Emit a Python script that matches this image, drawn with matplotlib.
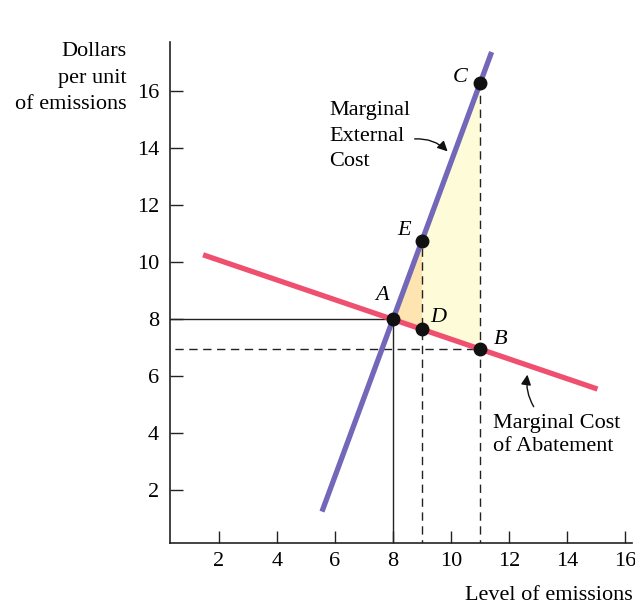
import matplotlib.pyplot as plt
from matplotlib.patches import Polygon

# curves (end points)
mec_x = [5.55, 11.4]
mec_y = [1.26, 17.35]
mca_x = [1.45, 15.05]
mca_y = [10.25, 5.55]

# labelled points
pt_names = ['A', 'D', 'B', 'E', 'C']
pt_x = [8, 9, 11, 9, 11]
pt_y = [8, 7.65, 6.96, 10.75, 16.25]

x_ticks = [2, 4, 6, 8, 10, 12, 14, 16]
y_ticks = [2, 4, 6, 8, 10, 12, 14, 16]

purple = '#7367b9'
red = '#ef5070'
serif = ['Liberation Serif', 'DejaVu Serif']
plt.rcParams['font.family'] = serif
fs = 16

fig = plt.figure(figsize=(6.35, 6.09), dpi=100)
ax = fig.add_axes([170 / 635, 1 - 543.3 / 609, 462 / 635, 501.3 / 609])
ax.set_xlim(0.31, 16.24)
ax.set_ylim(0.15, 17.7)

P = dict(zip(pt_names, zip(pt_x, pt_y)))

# shaded areas
ax.add_patch(Polygon([P['A'], P['E'], P['D']], closed=True,
                     facecolor='#fde4b0', edgecolor='none', zorder=1))
ax.add_patch(Polygon([P['E'], P['C'], P['B'], P['D']], closed=True,
                     facecolor='#fefbd8', edgecolor='none', zorder=1))

# guide lines
ax.plot([0, P['A'][0]], [P['A'][1]] * 2, color='#222222', lw=1, zorder=2)
ax.plot([P['A'][0]] * 2, [0, P['A'][1]], color='#222222', lw=1, zorder=2)
ax.plot([0, P['B'][0]], [P['B'][1]] * 2, color='#222222', lw=1,
        ls=(0, (6, 4)), zorder=2)
ax.plot([P['E'][0]] * 2, [0, P['E'][1]], color='#222222', lw=1,
        ls=(0, (6, 4)), zorder=2)
ax.plot([P['C'][0]] * 2, [0, P['C'][1]], color='#222222', lw=1,
        ls=(0, (6, 4)), zorder=2)

# curves
ax.plot(mca_x, mca_y, color=red, lw=3.8, solid_capstyle='butt', zorder=3)
ax.plot(mec_x, mec_y, color=purple, lw=3.8, solid_capstyle='butt', zorder=4)

ax.plot(pt_x, pt_y, 'o', color='#111111', ms=9, zorder=5)

# point labels
offsets = {'A': (-8, 17), 'D': (12, 8), 'B': (15, 7), 'E': (-13, 7), 'C': (-14, 4)}
for n in pt_names:
    ax.annotate(n, P[n], xytext=offsets[n], textcoords='offset points',
                ha='center', va='center', fontsize=fs, style='italic')

# curve labels
ax.text(5.8, 14.4, 'Marginal\nExternal\nCost', fontsize=fs,
        ha='left', va='center', linespacing=1.45)
ax.annotate('', xy=(9.95, 13.8), xytext=(8.65, 14.3),
            arrowprops=dict(arrowstyle='-|>', color='#111111', lw=1,
                            connectionstyle='arc3,rad=-0.25',
                            mutation_scale=15))
ax.text(11.45, 3.95, 'Marginal Cost\nof Abatement', fontsize=fs,
        ha='left', va='center', linespacing=1.25)
ax.annotate('', xy=(12.65, 6.15), xytext=(12.9, 4.85),
            arrowprops=dict(arrowstyle='-|>', color='#111111', lw=1,
                            connectionstyle='arc3,rad=-0.2',
                            mutation_scale=15))

# axes
for s in ['top', 'right']:
    ax.spines[s].set_visible(False)
for s in ['left', 'bottom']:
    ax.spines[s].set_linewidth(1.2)
    ax.spines[s].set_color('#222222')
ax.set_xticks(x_ticks)
ax.set_yticks(y_ticks)
ax.tick_params(direction='in', length=9, width=1, labelsize=fs,
               color='#222222')
ax.tick_params(axis='y', pad=8)
ax.tick_params(axis='x', pad=6)

fig.text(127 / 635, 1 - 42 / 609, 'Dollars\nper unit\nof emissions',
         ha='right', va='top', fontsize=fs, linespacing=1.55)
fig.text(633 / 635, 1 - 596 / 609, 'Level of emissions', ha='right',
         va='center', fontsize=fs)
fig.savefig('out.png', dpi=100)
